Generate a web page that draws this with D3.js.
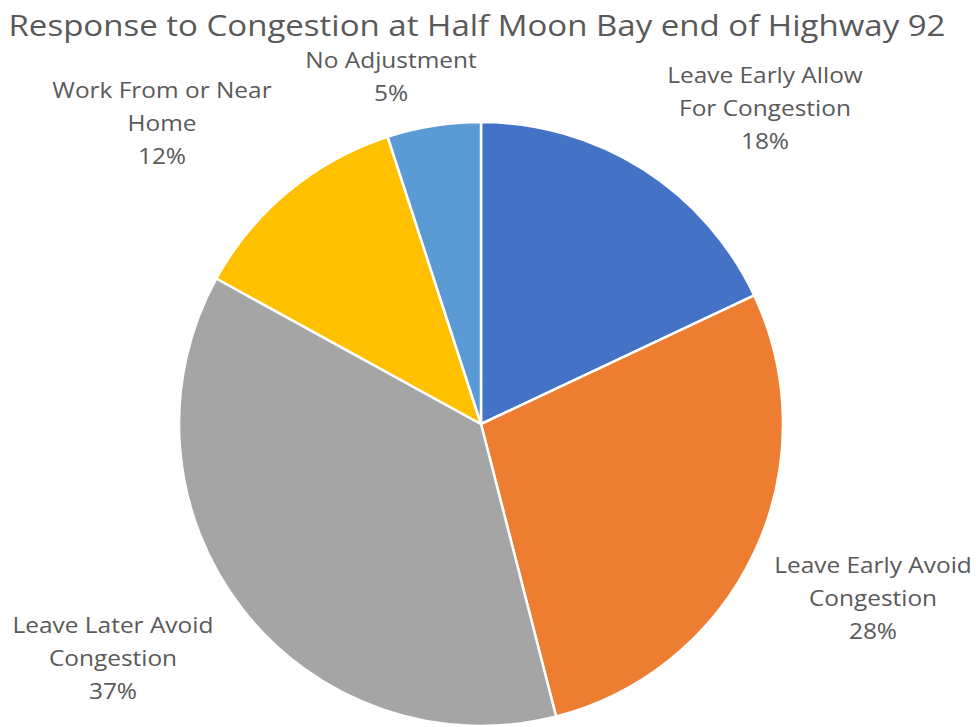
<!DOCTYPE html>
<html>
<head>
<meta charset="utf-8">
<script src="https://cdn.jsdelivr.net/npm/d3@7"></script>
<style>
  html, body { margin: 0; padding: 0; background: #fff; }
  svg { display: block; }
  text { font-family: "Open Sans", "Liberation Sans", sans-serif; fill: #595959; }
</style>
</head>
<body>
<svg id="chart" width="976" height="727"></svg>
<script>
// Survey responses, clockwise from 12 o'clock
const categories = [
  "Leave Early Allow For Congestion",
  "Leave Early Avoid Congestion",
  "Leave Later Avoid Congestion",
  "Work From or Near Home",
  "No Adjustment"
];
const shares = [18, 28, 37, 12, 5];
const labelLines = [
  ["Leave Early Allow", "For Congestion"],
  ["Leave Early Avoid", "Congestion"],
  ["Leave Later Avoid", "Congestion"],
  ["Work From or Near", "Home"],
  ["No Adjustment"]
];
const colors = ["#4472C4", "#ED7D31", "#A5A5A5", "#FFC000", "#5B9BD5"];
const title = "Response to Congestion at Half Moon Bay end of Highway 92";

// Layout
const W = 976, H = 727;
const cx = 481, cy = 424, R = 302;
// label block centre (x) and first-line baseline (y)
const labelAnchor = [
  { x: 765, y: 83 },
  { x: 873, y: 573 },
  { x: 113, y: 633 },
  { x: 162, y: 98 },
  { x: 391, y: 68 }
];
const lineH = 33;
const stretch = 1.11; // horizontal widening of the label glyphs

const svg = d3.select("#chart");

const titleText = svg.append("text")
  .attr("x", 477).attr("y", 36)
  .attr("text-anchor", "middle")
  .style("font-size", "29.5px")
  .text(title);
titleText.attr("textLength", 937).attr("lengthAdjust", "spacingAndGlyphs");

const data = categories.map((c, i) => ({ name: c, value: shares[i], i }));
const pie = d3.pie().value(d => d.value).sort(null);
const arc = d3.arc().innerRadius(0).outerRadius(R);

const g = svg.append("g").attr("transform", `translate(${cx},${cy})`);
g.selectAll("path")
  .data(pie(data))
  .join("path")
  .attr("d", arc)
  .attr("fill", d => colors[d.data.i])
  .attr("stroke", "#fff")
  .attr("stroke-width", 2.5)
  .attr("stroke-linejoin", "round");

// Category labels with percentages
const labels = svg.append("g");
data.forEach((d, i) => {
  const a = labelAnchor[i];
  const lines = labelLines[i].concat([d3.format(".0%")(d.value / 100)]);
  lines.forEach((ln, k) => {
    const t = labels.append("text")
      .attr("x", a.x).attr("y", a.y + k * lineH)
      .attr("text-anchor", "middle")
      .style("font-size", "22px")
      .text(ln);
    const w = t.node().getComputedTextLength();
    t.attr("textLength", w * stretch).attr("lengthAdjust", "spacingAndGlyphs");
  });
});
</script>
</body>
</html>
